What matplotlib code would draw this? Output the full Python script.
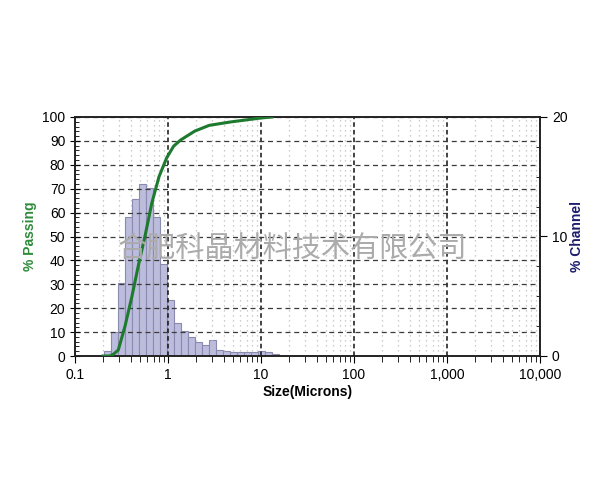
import matplotlib

matplotlib.use("Agg")
import matplotlib.pyplot as plt
import numpy as np
from matplotlib.ticker import FixedLocator, FixedFormatter, MultipleLocator

# Microtrac channel edges (microns) and % in each channel.
CHANNEL_EDGES = [0.2045, 0.243, 0.289, 0.344, 0.409, 0.486, 0.578, 0.688, 0.818,
                 0.972, 1.156, 1.375, 1.635, 1.945, 2.312, 2.75, 3.27, 3.889,
                 4.625, 5.5, 6.541, 7.778, 9.25, 11.0, 13.08, 15.56]
CHANNEL_PCT = [0.4, 2.0, 6.1, 11.6, 13.1, 14.4, 14.1, 11.6, 7.7, 4.7, 2.8, 2.1,
               1.6, 1.2, 0.95, 1.35, 0.5, 0.42, 0.35, 0.37, 0.36, 0.36, 0.4,
               0.35, 0.15]

# Cumulative % passing curve.
PASS_SIZE = [0.20, 0.237, 0.26, 0.292, 0.345, 0.407, 0.479, 0.566, 0.67, 0.80,
             0.97, 1.15, 1.37, 1.94, 2.77, 4.65, 7.0, 10.0, 13.1]
PASS_PCT = [0, 0, 0.8, 2.5, 12.5, 24.5, 37.7, 50.2, 64, 75, 83, 87.8, 90.4,
            94.1, 96.5, 97.9, 98.8, 99.6, 100]

X_TICKS = [0.1, 1, 10, 100, 1000, 10000]
X_LABELS = ["0.1", "1", "10", "100", "1,000", "10,000"]

plt.rcParams["font.family"] = ["Liberation Sans", "DejaVu Sans"]

fig = plt.figure(figsize=(6, 5), dpi=100)
ax = fig.add_axes([0.125, 0.288, 0.775, 0.478])
ax2 = ax.twinx()

# channel histogram on the right axis
edges = np.array(CHANNEL_EDGES)
ax2.bar(edges[:-1], CHANNEL_PCT, width=np.diff(edges), align="edge",
        color="#bcbcde", edgecolor="#8a8aae", linewidth=0.8)
ax2.set_ylim(0, 20)
ax2.yaxis.set_major_locator(FixedLocator([0, 10, 20]))
ax2.yaxis.set_minor_locator(MultipleLocator(2.5))
ax2.tick_params(axis="y", which="major", direction="out", length=5, labelsize=10)
ax2.tick_params(axis="y", which="minor", direction="in", length=3)
ax2.set_ylabel("% Channel", color="#1c1c6e", fontweight="bold", fontsize=10,
               labelpad=2)

# passing curve on the left axis, kept above the bars
ax.set_zorder(ax2.get_zorder() + 1)
ax.patch.set_visible(False)
ax.plot(PASS_SIZE, PASS_PCT, color="#1e7a2e", linewidth=2.2, zorder=5)

ax.set_xscale("log")
ax.set_xlim(0.1, 10000)
ax.set_ylim(0, 100)
ax.xaxis.set_major_locator(FixedLocator(X_TICKS))
ax.xaxis.set_major_formatter(FixedFormatter(X_LABELS))
minors = [m * d for d in X_TICKS[:-1] for m in range(2, 10)]
ax.xaxis.set_minor_locator(FixedLocator(minors))
ax.xaxis.set_minor_formatter(FixedFormatter([""] * len(minors)))
ax.yaxis.set_major_locator(MultipleLocator(10))
ax.yaxis.set_minor_locator(MultipleLocator(2))
ax.tick_params(axis="both", which="major", labelsize=10)
ax.tick_params(axis="y", which="major", direction="inout", length=7)
ax.tick_params(axis="y", which="minor", direction="in", length=3)
ax.tick_params(axis="x", which="major", direction="out", length=5)
ax.tick_params(axis="x", which="minor", direction="out", length=4)

ax.grid(axis="y", which="major", linestyle=(0, (4, 3)), color="#3a3a3a",
        linewidth=0.9)
ax.grid(axis="x", which="major", linestyle=(0, (3, 2)), color="#111111",
        linewidth=1.1)
ax.grid(axis="x", which="minor", linestyle=(0, (1, 3)), color="#bdbdbd",
        linewidth=0.9)

ax.set_xlabel("Size(Microns)", fontweight="bold", fontsize=10, labelpad=2)
ax.set_ylabel("% Passing", color="#2e8b3a", fontweight="bold", fontsize=10,
              labelpad=4)

for a in (ax, ax2):
    for s in a.spines.values():
        s.set_color("#222222")
        s.set_linewidth(1.2)

# watermark
fig.text(0.488, 0.5, "合肥科晶材料技术有限公司", ha="center", va="center",
         fontsize=21, color="#ababab", family=["Noto Sans CJK SC", "DejaVu Sans"],
         zorder=10)

fig.savefig("out.png", dpi=100)
